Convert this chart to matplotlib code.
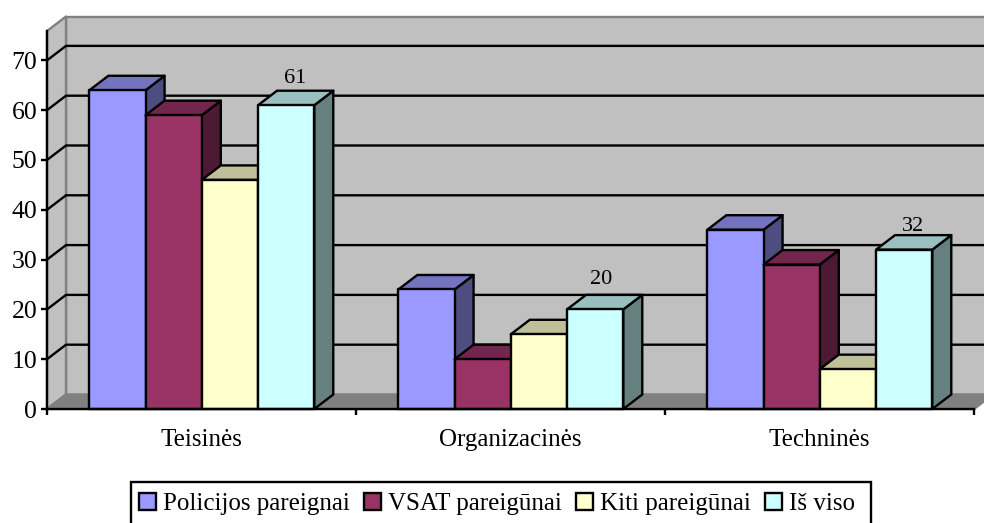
import matplotlib.pyplot as plt
from matplotlib.patches import Polygon, Patch, Rectangle
import matplotlib.colors as mcolors
import numpy as np

plt.rcParams['font.family'] = ['Liberation Serif', 'DejaVu Serif']

categories = ['Teisinės', 'Organizacinės', 'Techninės']
series_names = ['Policijos pareignai', 'VSAT pareigūnai', 'Kiti pareigūnai', 'Iš viso']
policijos = [64, 24, 36]
vsat = [59, 10, 29]
kiti = [46, 15, 8]
is_viso = [61, 20, 32]
all_series = [policijos, vsat, kiti, is_viso]
colors = ['#9999FF', '#993366', '#FFFFCC', '#CCFFFF']
y_ticks = [0, 10, 20, 30, 40, 50, 60, 70]

W, H = 984, 523
left, right, top, bottom = 47, 974, 31, 409
y_max = 75.9
dx = 19 / (right - left) * len(categories)   # depth offset, category units
dy = 14.5 * y_max / (bottom - top)           # depth offset, value units
bar_w = 0.182
gap = 0.137
lw = 1.7
fs = 18
# the value labels do not sit at the same distance above their bars
label_shift_x = [-0.003, -0.01, -0.003]
label_shift_y = [0.6, 1.2, -0.2]


def shade(c, f):
    r = mcolors.to_rgb(c)
    return (r[0] * f, r[1] * f, r[2] * f)


def poly(ax, pts, fc, ec='black', z=2, w=lw):
    ax.add_patch(Polygon(pts, closed=True, facecolor=fc, edgecolor=ec, linewidth=w,
                         zorder=z, clip_on=False, joinstyle='round'))


fig = plt.figure(figsize=(W / 100, H / 100), dpi=100)
ax = fig.add_axes([left / W, 1 - bottom / H, (right - left) / W, (bottom - top) / H])
ax.set_xlim(0, len(categories))
ax.set_ylim(0, y_max)
ax.patch.set_visible(False)

n = len(categories)
# walls and floor
poly(ax, [(dx, dy), (n + dx, dy), (n + dx, y_max + dy), (dx, y_max + dy)], '#C0C0C0', '#808080', 1)
poly(ax, [(0, 0), (dx, dy), (dx, y_max + dy), (0, y_max)], '#C0C0C0', '#808080', 1)
poly(ax, [(0, 0), (n, 0), (n + dx, dy), (dx, dy)], '#808080', '#808080', 1)

# gridlines
for v in y_ticks[1:]:
    ax.plot([0, dx, n + dx], [v, v + dy, v + dy], color='black', lw=lw, zorder=1.5, clip_on=False)

# bars
for c in range(n):
    for s, vals in enumerate(all_series):
        x0 = c + gap + s * bar_w
        x1 = x0 + bar_w
        v = vals[c]
        col = colors[s]
        poly(ax, [(x1, 0), (x1 + dx, dy), (x1 + dx, v + dy), (x1, v)], shade(col, 0.5))
        poly(ax, [(x0, v), (x1, v), (x1 + dx, v + dy), (x0 + dx, v + dy)], shade(col, 0.75))
        poly(ax, [(x0, 0), (x1, 0), (x1, v), (x0, v)], col)
        if s == 3:
            ax.text((x0 + x1 + dx) / 2 + label_shift_x[c], v + dy + label_shift_y[c], str(v),
                    ha='center', va='bottom', fontsize=16, color='black', zorder=5)

for sp in ['top', 'right']:
    ax.spines[sp].set_visible(False)
for sp in ['left', 'bottom']:
    ax.spines[sp].set_linewidth(lw)
    ax.spines[sp].set_zorder(6)
    ax.spines[sp].set_capstyle('projecting')

ax.set_yticks(y_ticks)
ax.set_yticklabels([str(v) for v in y_ticks], fontsize=fs + 0.5)
ax.set_xticks(np.arange(n + 1))
ax.set_xticklabels([])
ax.set_xticks(np.arange(n) + 0.5, minor=True)
ax.set_xticklabels(categories, minor=True, fontsize=fs)
ax.tick_params(axis='both', which='major', length=4.5, width=lw, pad=2.5)
ax.tick_params(axis='x', which='minor', length=0, pad=14.5)

# legend box runs off the bottom of the picture in the original
fig.add_artist(Rectangle((131 / W, -10 / H), 740 / W, (41 + 10) / H, transform=fig.transFigure,
                         facecolor='white', edgecolor='black', linewidth=lw, zorder=3))
handles = [Patch(facecolor=c, edgecolor='black', linewidth=lw) for c in colors]
leg = fig.legend(handles, series_names, ncol=4, loc='center',
                 bbox_to_anchor=(497 / W, 1 - 504 / H), frameon=False,
                 fontsize=fs, handlelength=0.68, handleheight=0.68,
                 handletextpad=0.27, columnspacing=0.58, borderpad=0, borderaxespad=0)
leg.set_zorder(4)

fig.savefig('out.png', dpi=100)
